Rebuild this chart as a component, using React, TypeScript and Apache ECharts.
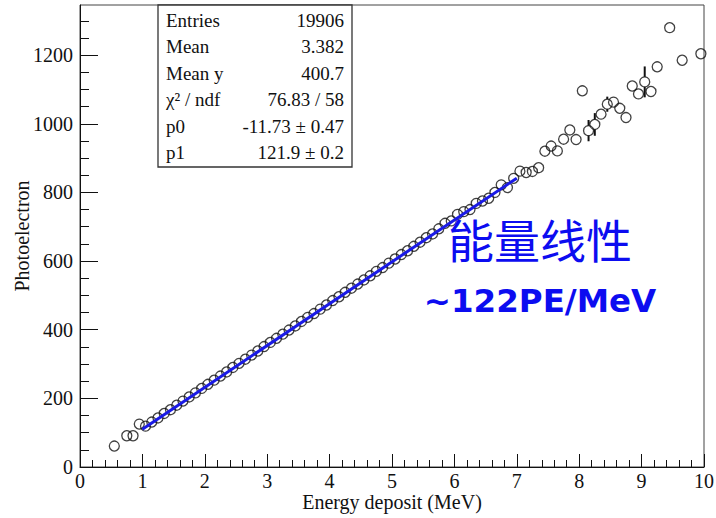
import React, { useEffect, useRef } from "react";
import * as echarts from "echarts";

// ---- data ----
const energy = [
  0.55, 0.75, 0.85, 0.95,
  1.05, 1.15, 1.25, 1.35, 1.45, 1.55, 1.65, 1.75, 1.85, 1.95,
  2.05, 2.15, 2.25, 2.35, 2.45, 2.55, 2.65, 2.75, 2.85, 2.95,
  3.05, 3.15, 3.25, 3.35, 3.45, 3.55, 3.65, 3.75, 3.85, 3.95,
  4.05, 4.15, 4.25, 4.35, 4.45, 4.55, 4.65, 4.75, 4.85, 4.95,
  5.05, 5.15, 5.25, 5.35, 5.45, 5.55, 5.65, 5.75, 5.85, 5.95,
  6.05, 6.15, 6.25, 6.35, 6.45, 6.55, 6.65, 6.75, 6.85, 6.95,
  7.05, 7.15, 7.25, 7.35, 7.45, 7.55, 7.65, 7.75, 7.85, 7.95,
  8.05, 8.15, 8.25, 8.35, 8.45, 8.55, 8.65, 8.75, 8.85, 8.95,
  9.05, 9.15, 9.25, 9.45, 9.65, 9.95,
];
const photoelectron = [
  61, 91, 91, 125,
  119, 131, 143, 156, 167, 180, 192, 204, 216, 229,
  241, 253, 265, 277, 290, 302, 314, 326, 338, 351,
  363, 375, 387, 399, 411, 424, 436, 447, 460, 472,
  485, 496, 509, 521, 533, 545, 557, 570, 581, 594,
  606, 619, 630, 643, 655, 668, 679, 694, 710, 717,
  736, 744, 750, 768, 775, 783, 800, 822, 814, 841,
  862, 858, 861, 872, 920, 935, 921, 955, 982, 954,
  1096, 980, 998, 1028, 1057, 1063, 1045, 1018, 1110, 1087,
  1122, 1094, 1166, 1280, 1185, 1204,
];
// visible error bars (others are hidden inside the markers)
const errEnergy = [7.45, 7.55, 7.85, 8.15, 8.25, 8.35, 8.45, 9.05];
const errSize = [8, 12, 12, 31, 33, 12, 22, 45];

const fitP0 = -11.73;
const fitP1 = 121.9;
const fitRange = [1.0, 7.0];

const statLabels = ["Entries", "Mean", "Mean y", "χ² / ndf", "p0", "p1"];
const statValues = ["19906", "3.382", "400.7", "76.83 / 58", "-11.73 ± 0.47", "121.9 ± 0.2"];

const yMajorTicks = [0, 200, 400, 600, 800, 1000, 1200];
const yMinorTicks = [50, 100, 150, 250, 300, 350, 450, 500, 550, 650, 700, 750, 850, 900, 950, 1050, 1100, 1150, 1250, 1300];

const SERIF = "'Liberation Serif', 'DejaVu Serif', serif";

export default function App() {
  const ref = useRef<HTMLDivElement>(null);

  useEffect(() => {
    document.body.style.margin = "0";
    if (!ref.current) return;
    const chart = echarts.init(ref.current, null, { renderer: "svg" });

    const points = energy.map((x, i) => [x, photoelectron[i]]);
    const errData = errEnergy.map((x, i) => {
      const idx = energy.indexOf(x);
      return [x, photoelectron[idx], errSize[i]];
    });
    const fitLine = fitRange.map((x) => [x, fitP0 + fitP1 * x]);

    const rowY = [20, 46.5, 73, 99.5, 126, 152.5];
    const statGraphics: any[] = [
      {
        type: "rect",
        shape: { x: 158, y: 5, width: 194, height: 162 },
        style: { fill: "#fff", stroke: "#333", lineWidth: 1.3 },
        z: 10,
      },
    ];
    statLabels.forEach((lab, i) => {
      statGraphics.push({
        type: "text",
        x: 166,
        y: rowY[i],
        z: 11,
        style: {
          text: lab,
          font: `19px ${SERIF}`,
          fill: "#111",
          textAlign: "left",
          textVerticalAlign: "middle",
        },
      });
      statGraphics.push({
        type: "text",
        x: 344,
        y: rowY[i],
        z: 11,
        style: {
          text: statValues[i],
          font: `19px ${SERIF}`,
          fill: "#111",
          textAlign: "right",
          textVerticalAlign: "middle",
        },
      });
    });

    const option: any = {
      animation: false,
      backgroundColor: "#fff",
      grid: {
        left: 80,
        right: 12,
        top: 5,
        bottom: 51,
        outerBoundsMode: "none",
        containLabel: false,
        show: true,
        borderColor: "#444",
        borderWidth: 1,
        backgroundColor: "transparent",
      },
      xAxis: {
        type: "value",
        min: 0,
        max: 10,
        interval: 1,
        name: "Energy deposit (MeV)",
        nameLocation: "middle",
        nameGap: 25,
        nameMoveOverlap: false,
        nameTextStyle: { fontFamily: SERIF, fontSize: 20, color: "#111", lineHeight: 20 },
        axisLine: { show: true, lineStyle: { color: "#111", width: 1 } },
        axisTick: { show: true, inside: true, length: 13, lineStyle: { color: "#111" } },
        minorTick: { show: true, splitNumber: 5, length: 7, lineStyle: { color: "#111" } },
        axisLabel: { fontFamily: SERIF, fontSize: 20, lineHeight: 20, color: "#111", margin: 4, formatter: (v: number) => String(v) },
        splitLine: { show: false },
        minorSplitLine: { show: false },
      },
      yAxis: [
        {
          type: "value",
          min: 0,
          max: 1346,
          name: "Photoelectron",
          nameLocation: "middle",
          nameGap: 48,
          nameMoveOverlap: false,
          nameTextStyle: { fontFamily: SERIF, fontSize: 20, color: "#111" },
          axisLine: { show: true, lineStyle: { color: "#111", width: 1 } },
          axisTick: {
            show: true,
            inside: true,
            length: 18,
            customValues: yMajorTicks,
            lineStyle: { color: "#111" },
          },
          axisLabel: {
            fontFamily: SERIF,
            fontSize: 20,
            color: "#111",
            margin: 7,
            customValues: yMajorTicks,
            formatter: (v: number) => String(v),
          },
          splitLine: { show: false },
        },
        {
          type: "value",
          min: 0,
          max: 1346,
          position: "left",
          axisLine: { show: false },
          axisTick: {
            show: true,
            inside: true,
            length: 9,
            customValues: yMinorTicks,
            lineStyle: { color: "#111" },
          },
          axisLabel: { show: false },
          splitLine: { show: false },
        },
      ],
      series: [
        {
          type: "scatter",
          data: points,
          symbol: "circle",
          symbolSize: 10,
          itemStyle: { color: "transparent", borderColor: "#111", borderWidth: 1.3 },
          z: 2,
        },
        {
          type: "custom",
          data: errData,
          z: 3,
          renderItem: (params: any, api: any) => {
            const x = api.value(0);
            const y = api.value(1);
            const e = api.value(2);
            const c = api.coord([x, y]);
            const top = api.coord([x, y + e]);
            const bot = api.coord([x, y - e]);
            const r = 5;
            const children: any[] = [];
            if (c[1] - top[1] > r) {
              children.push({
                type: "line",
                shape: { x1: c[0], y1: top[1], x2: c[0], y2: c[1] - r },
                style: { stroke: "#111", lineWidth: 2 },
              });
            }
            if (bot[1] - c[1] > r) {
              children.push({
                type: "line",
                shape: { x1: c[0], y1: c[1] + r, x2: c[0], y2: bot[1] },
                style: { stroke: "#111", lineWidth: 2 },
              });
            }
            return { type: "group", children };
          },
        },
        {
          type: "line",
          data: fitLine,
          symbol: "none",
          lineStyle: { color: "#1a1ae6", width: 3 },
          z: 4,
        },
      ],
      graphic: [
        ...statGraphics,
        {
          type: "text",
          x: 540,
          y: 238,
          z: 12,
          style: {
            text: "能量线性",
            font: `46px 'Noto Sans CJK SC'`,
            fill: "#0c0cf0",
            textAlign: "center",
            textVerticalAlign: "middle",
          },
        },
        {
          type: "text",
          x: 540,
          y: 301,
          z: 12,
          style: {
            text: "~122PE/MeV",
            font: `bold 32.5px 'DejaVu Sans'`,
            fill: "#0c0cf0",
            textAlign: "center",
            textVerticalAlign: "middle",
          },
        },
      ],
    };

    chart.setOption(option);
    return () => chart.dispose();
  }, []);

  return <div ref={ref} style={{ width: 716, height: 518 }} />;
}
